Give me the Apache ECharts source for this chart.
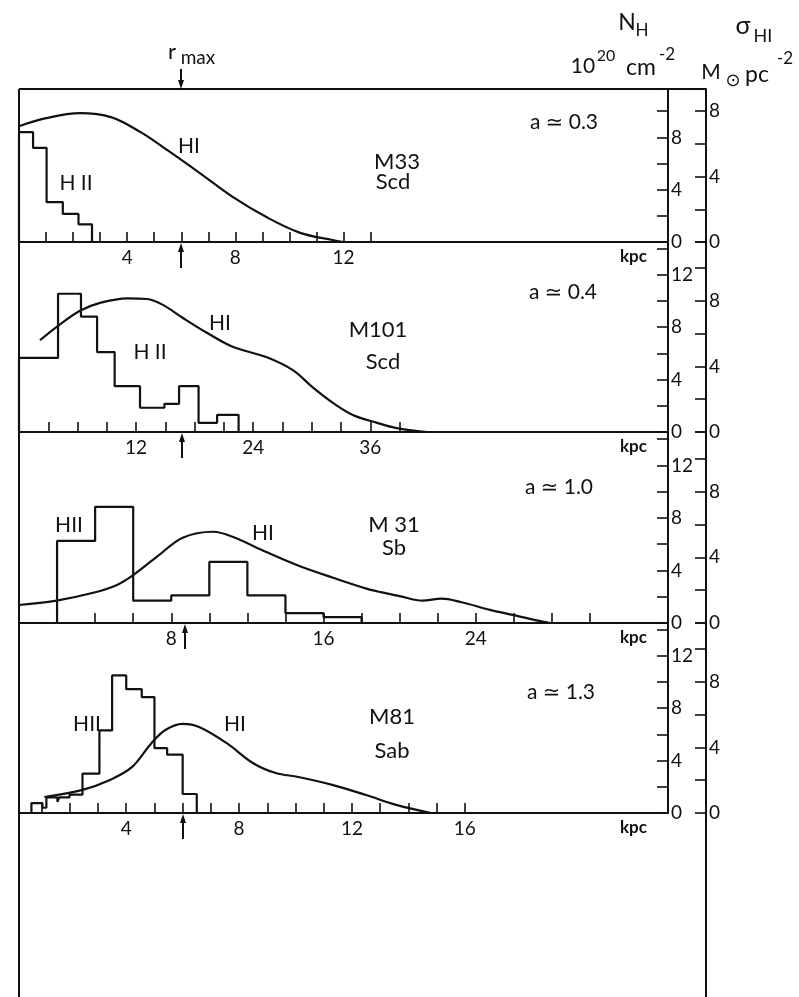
<!DOCTYPE html>
<html>
<head>
<meta charset="utf-8">
<script src="https://cdn.jsdelivr.net/npm/echarts@6/dist/echarts.min.js"></script>
<style>html,body{margin:0;padding:0;background:#fff}#c{width:799px;height:997px}</style>
</head>
<body>
<div id="c"></div>
<script>
// ---------------- DATA ----------------
const galaxyNames = ['M33', 'M101', 'M 31', 'M81'];
const hubbleTypes = ['Scd', 'Scd', 'Sb', 'Sab'];
const aLabels = ['a \u2243 0.3', 'a \u2243 0.4', 'a \u2243 1.0', 'a \u2243 1.3'];
const rMax = [6.0, 16.7, 8.7, 6.0];          // kpc, arrow positions

// HI radial profiles: radius (kpc) and N_H (10^20 cm^-2)
const m33HI_r = [0, 0.96, 2.26, 3.4, 4.5, 5.5, 6.7, 7.9, 9.2, 10.4, 11.6, 12.0];
const m33HI_n = [8.85, 9.45, 9.85, 9.55, 8.4, 7.0, 5.25, 3.45, 1.85, 0.7, 0.15, 0.0];
const m101HI_r = [2.15, 4.0, 6.25, 8.3, 11.1, 13.1, 14.75, 16.8, 19.3, 21.9, 25.4, 28.1, 30.1, 32.2, 34.2, 36.7, 38.7, 41.8];
const m101HI_n = [7.0, 8.1, 9.25, 9.85, 10.2, 10.15, 9.7, 8.7, 7.55, 6.5, 5.7, 4.7, 3.4, 2.2, 1.3, 0.7, 0.3, 0.0];
const m31HI_r = [0, 1.9, 3.9, 5.15, 6.0, 7.25, 8.6, 10.2, 11.25, 13.0, 14.8, 16.5, 18.3, 19.0, 20.0, 21.2, 22.2, 23.2, 24.75, 26.0, 27.5, 27.9];
const m31HI_n = [1.37, 1.68, 2.3, 2.9, 3.65, 5.05, 6.5, 6.95, 6.55, 5.4, 4.3, 3.45, 2.6, 2.35, 2.05, 1.7, 1.85, 1.6, 1.0, 0.6, 0.1, 0.0];
const m81HI_r = [1.1, 2.45, 3.4, 4.2, 4.9, 5.4, 6.0, 6.6, 7.55, 8.5, 9.3, 10.1, 11.3, 12.5, 13.6, 14.8];
const m81HI_n = [1.22, 1.76, 2.5, 3.5, 5.35, 6.35, 6.8, 6.55, 5.35, 3.8, 3.05, 2.75, 2.15, 1.37, 0.6, 0.0];

// HII histograms: bin edges (kpc) and heights (same N_H scale)
const m33HII_edges = [0, 0.52, 1.02, 1.62, 2.2, 2.7];
const m33HII_h = [8.4, 7.2, 3.05, 2.15, 1.35];
const m101HII_edges = [0, 4.0, 6.35, 8.0, 9.8, 12.4, 14.9, 16.4, 18.4, 20.3, 22.5];
const m101HII_h = [5.65, 10.55, 8.8, 6.1, 3.5, 1.85, 2.15, 3.5, 0.7, 1.3];
const m31HII_edges = [2, 4, 6, 8, 10, 12, 14, 16, 18];
const m31HII_h = [6.25, 8.85, 1.7, 2.1, 4.65, 2.1, 0.75, 0.45];
const m81HII_edges = [0.64, 1.03, 1.17, 1.56, 1.63, 1.99, 2.45, 3.05, 3.5, 4.0, 4.55, 5.0, 5.45, 6.0, 6.5];
const m81HII_h = [0.76, 0.4, 1.2, 0.85, 1.2, 1.4, 3.0, 6.3, 10.5, 9.45, 8.85, 4.95, 4.45, 1.45];

// x-axis ticks and tick labels (kpc)
const m33Ticks = [1,2,3,4,5,6,7,8,9,10,11,12,13];
const m33Labels = [4, 8, 12];
const m101Ticks = [3,6,9,12,15,18,21,24,27,30,33,36,39];
const m101Labels = [12, 24, 36];
const m31Ticks = [2,4,6,8,10,12,14,16,18,20,22,24,26,28,30];
const m31Labels = [8, 16, 24];
const m81Ticks = [1,2,3,4,5,6,7,8,9,10,11,12,13,14,15,16];
const m81Labels = [4, 8, 12, 16];

// y-axis tick step (N_H and sigma_HI), labelled every 4
const yTickStep = 2;
const yLabelStep = 4;
const nhPerSigma = 1.25;   // 1 Msun pc^-2 = 1.25 x 10^20 cm^-2

// ---------------- LAYOUT / STYLE ----------------
const INK = '#111';
const FONT = 'Lato, "DejaVu Sans", sans-serif';
const PLOT_L = 19, PLOT_W = 649, SIG_OFF = 38;
const panels = [
  {top: 89,  h: 153, nhMax: 11.7, xmin: 0,   xmax: 24.0, hiR: m33HI_r,  hiN: m33HI_n,  e: m33HII_edges,  v: m33HII_h,  ticks: m33Ticks,  labels: m33Labels},
  {top: 242, h: 190, nhMax: 14.5, xmin: 0,   xmax: 66.5, hiR: m101HI_r, hiN: m101HI_n, e: m101HII_edges, v: m101HII_h, ticks: m101Ticks, labels: m101Labels},
  {top: 432, h: 191, nhMax: 14.55,xmin: 0,   xmax: 34.1, hiR: m31HI_r,  hiN: m31HI_n,  e: m31HII_edges,  v: m31HII_h,  ticks: m31Ticks,  labels: m31Labels},
  {top: 623, h: 190, nhMax: 14.5, xmin: 0.2, xmax: 23.2, hiR: m81HI_r,  hiN: m81HI_n,  e: m81HII_edges,  v: m81HII_h,  ticks: m81Ticks,  labels: m81Labels}
];

function zip(a, b) { return a.map((x, i) => [x, b[i]]); }
function histogram(edges, h) {
  const pts = [[edges[0], 0]];
  for (let i = 0; i < h.length; i++) { pts.push([edges[i], h[i]]); pts.push([edges[i + 1], h[i]]); }
  pts.push([edges[edges.length - 1], 0]);
  return pts;
}

const grid = [], xAxis = [], yAxis = [], series = [];
panels.forEach((p, i) => {
  grid.push({left: PLOT_L, top: p.top, width: PLOT_W, height: p.h});
  xAxis.push({
    gridIndex: i, type: 'value', min: p.xmin, max: p.xmax,
    axisLine: {lineStyle: {color: INK, width: 2}},
    axisTick: {inside: true, length: 10, customValues: p.ticks, lineStyle: {color: INK, width: 1.6}},
    axisLabel: {customValues: p.labels, color: INK, fontSize: 19, fontFamily: FONT, margin: 6},
    splitLine: {show: false},
    name: 'kpc', nameLocation: 'end', nameGap: -48,
    nameTextStyle: {color: INK, fontSize: 17, fontWeight: 'bold', fontFamily: FONT, align: 'left', verticalAlign: 'top', padding: [6, 0, 0, 0]}
  });
  const yCommon = {
    gridIndex: i, type: 'value', position: 'right', min: 0, interval: yTickStep,
    axisLine: {show: true, onZero: false, lineStyle: {color: INK, width: 2}},
    axisTick: {show: true, inside: true, length: 11, lineStyle: {color: INK, width: 1.6}},
    axisLabel: {color: INK, fontSize: 19, fontFamily: FONT, margin: 3,
      formatter: v => (Math.abs(v % yLabelStep) < 1e-9 ? String(v) : '')},
    splitLine: {show: false}
  };
  yAxis.push(Object.assign({}, yCommon, {max: p.nhMax, offset: 0}));
  yAxis.push(Object.assign({}, yCommon, {max: p.nhMax / nhPerSigma, offset: SIG_OFF}));

  series.push({
    type: 'line', name: 'HI', xAxisIndex: i, yAxisIndex: 2 * i, data: zip(p.hiR, p.hiN),
    smooth: 0.35, symbol: 'none', silent: true, lineStyle: {color: INK, width: 2.2}
  });
  series.push({
    type: 'line', name: 'HII', xAxisIndex: i, yAxisIndex: 2 * i, data: histogram(p.e, p.v),
    symbol: 'none', silent: true, lineStyle: {color: INK, width: 2.2}
  });
  const top = i === 0;
  series.push({
    type: 'custom', name: 'rmax', xAxisIndex: i, yAxisIndex: 2 * i, silent: true, clip: false,
    data: [[rMax[i], 0]],
    renderItem: (params, api) => {
      const b = api.coord([api.value(0), 0]);
      const x = Math.round(b[0]);
      const ch = [
        {type: 'line', shape: {x1: x, y1: b[1] + 6, x2: x, y2: b[1] + 26}, style: {stroke: INK, lineWidth: 2}},
        {type: 'polygon', shape: {points: [[x, b[1] + 1], [x - 3, b[1] + 10], [x + 3, b[1] + 10]]}, style: {fill: INK}}
      ];
      if (top) {
        const t = api.coord([api.value(0), p.nhMax]);
        ch.push({type: 'line', shape: {x1: x, y1: t[1] - 20, x2: x, y2: t[1] - 6}, style: {stroke: INK, lineWidth: 2}});
        ch.push({type: 'polygon', shape: {points: [[x, t[1]], [x - 3, t[1] - 9], [x + 3, t[1] - 9]]}, style: {fill: INK}});
      }
      return {type: 'group', children: ch};
    }
  });
});

// ---------------- TEXT ANNOTATIONS ----------------
function txt(s, x, y, size, extra) {
  return Object.assign({type: 'text', x: x, y: y, silent: true,
    style: {text: s, fill: INK, fontSize: size, fontFamily: FONT, align: 'center', verticalAlign: 'middle'}}, extra || {});
}
const nameY = [[162, 182], [330, 362], [525, 548], [717, 751]];
const nameX = [397, 378, 394, 392];
const typeX = [393, 383, 394, 392];
const aPos = [[564, 122], [563, 292], [559, 487], [561, 692]];
const hiPos = [[189, 146], [220, 323], [263, 533], [235, 724]];
const hiiPos = [[76, 183], [150, 352], [69, 525], [87, 724]];
const hiiText = ['H II', 'H II', 'HII', 'HII'];

const graphic = [
  {type: 'line', silent: true, shape: {x1: PLOT_L, y1: 89, x2: PLOT_L, y2: 997}, style: {stroke: INK, lineWidth: 2}},
  {type: 'line', silent: true, shape: {x1: PLOT_L, y1: 89, x2: PLOT_L + PLOT_W + SIG_OFF, y2: 89}, style: {stroke: INK, lineWidth: 2}},
  {type: 'line', silent: true, shape: {x1: PLOT_L + PLOT_W + SIG_OFF, y1: 813, x2: PLOT_L + PLOT_W + SIG_OFF, y2: 997}, style: {stroke: INK, lineWidth: 2}},
  // header
  txt('N', 627, 23, 23), txt('H', 642, 31, 17),
  txt('10', 583, 66, 21), txt('20', 606, 56, 16), txt('cm', 641, 68, 23), txt('-2', 667, 55, 17),
  txt('\u03C3', 743, 26, 25), txt('HI', 763, 36, 18),
  txt('M', 711, 72, 21), txt('\u2299', 733, 80, 18), txt('pc', 757, 75, 23), txt('-2', 785, 59, 17),
  txt('r', 172, 52, 22), txt('max', 198, 58, 19)
];
for (let i = 0; i < 4; i++) {
  graphic.push(txt(galaxyNames[i], nameX[i], nameY[i][0], 22));
  graphic.push(txt(hubbleTypes[i], typeX[i], nameY[i][1], 22));
  graphic.push(txt(aLabels[i], aPos[i][0], aPos[i][1], 21));
  graphic.push(txt('HI', hiPos[i][0], hiPos[i][1], 21));
  graphic.push(txt(hiiText[i], hiiPos[i][0], hiiPos[i][1], 21));
}

const chart = echarts.init(document.getElementById('c'), null, {renderer: 'canvas'});
chart.setOption({
  backgroundColor: '#fff', animation: false,
  grid, xAxis, yAxis, series, graphic
});
</script>
</body>
</html>
